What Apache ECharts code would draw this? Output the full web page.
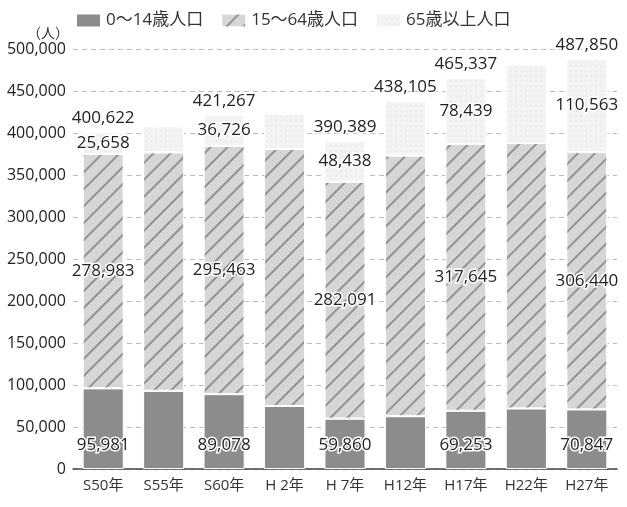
<!DOCTYPE html>
<html><head><meta charset="utf-8">
<script src="https://cdn.jsdelivr.net/npm/echarts@6/dist/echarts.min.js"></script>
<style>html,body{margin:0;padding:0;background:#fff}#c{width:627px;height:507px}</style>
</head><body><div id="c"></div>
<script>
const categories = ['S50年','S55年','S60年','H 2年','H 7年','H12年','H17年','H22年','H27年'];
const young   = [95981, 93000, 89078, 75000, 59860, 62800, 69253, 72000, 70847];
const working = [278983, 284000, 295463, 306000, 282091, 310300, 317645, 316000, 306440];
const elderly = [25658, 31000, 36726, 42000, 48438, 65005, 78439, 93000, 110563];
const segLabelIdx = [0, 2, 4, 6, 8];
const totalLabelIdx = [0, 2, 4, 5, 6, 8];
const seriesNames = ['0～14歳人口', '15～64歳人口', '65歳以上人口'];
const yTicks = { min: 0, max: 500000, interval: 50000 };

const totals = categories.map((_, i) => young[i] + working[i] + elderly[i]);
const fmt = v => v.toLocaleString('en-US');
const FONT = '"Open Sans", "Noto Sans CJK JP", sans-serif';

function withLabels(arr, idx) {
  return arr.map((v, i) => ({ value: v, label: { show: idx.includes(i) } }));
}

const labelBase = { fontSize: 17, color: '#222', fontFamily: FONT,
                    textBorderColor: '#fff', textBorderWidth: 3, formatter: p => fmt(p.value) };

const chart = echarts.init(document.getElementById('c'));
chart.setOption({
  animation: false,
  textStyle: { fontFamily: FONT },
  legend: {
    data: seriesNames,
    left: 70, top: 7,
    itemWidth: 25, itemHeight: 14, itemGap: 17,
    icon: 'rect',
    textStyle: { fontSize: 17, color: '#333', fontFamily: FONT }
  },
  grid: { left: 73, right: 10, top: 49, bottom: 38 },
  xAxis: {
    type: 'category', data: categories,
    axisLine: { lineStyle: { color: '#444', width: 1.5 } },
    axisTick: { show: false },
    axisLabel: { fontSize: 15, color: '#333', margin: 9, fontFamily: FONT }
  },
  yAxis: {
    type: 'value', min: yTicks.min, max: yTicks.max, interval: yTicks.interval,
    name: '（人）', nameLocation: 'end', nameGap: 6,
    nameTextStyle: { fontSize: 14, color: '#333', align: 'right', padding: [0, 4, 0, 0] },
    axisLabel: { fontSize: 16, color: '#222', margin: 7, formatter: v => fmt(v) },
    splitLine: { lineStyle: { color: '#bbb', type: [5, 4] } }
  },
  series: [
    {
      name: seriesNames[0], type: 'bar', stack: 'p', barCategoryGap: '32%',
      itemStyle: { color: '#8c8c8c', borderColor: '#fff', borderWidth: 1 },
      label: Object.assign({ position: 'insideBottom', distance: 15 }, labelBase),
      data: withLabels(young, segLabelIdx)
    },
    {
      name: seriesNames[1], type: 'bar', stack: 'p',
      itemStyle: { color: '#d6d6d6', borderColor: '#fff', borderWidth: 1,
        decal: { symbol: 'rect', symbolSize: 1, dashArrayX: [1, 0], dashArrayY: [1.3, 10],
                 rotation: -Math.PI / 4, color: 'rgba(100,100,100,0.6)' } },
      label: Object.assign({ position: 'inside' }, labelBase),
      data: withLabels(working, segLabelIdx)
    },
    {
      name: seriesNames[2], type: 'bar', stack: 'p',
      itemStyle: { color: '#f3f3f3', borderColor: '#fff', borderWidth: 1,
        decal: { symbol: 'circle', symbolSize: 0.6, dashArrayX: [[2, 3]], dashArrayY: [2, 3],
                 color: 'rgba(150,150,150,0.3)' } },
      label: Object.assign({ position: 'inside' }, labelBase),
      data: withLabels(elderly, segLabelIdx)
    },
    {
      name: 'total', type: 'scatter', symbol: 'rect', symbolSize: 1,
      itemStyle: { color: 'rgba(0,0,0,0)', opacity: 1 }, silent: true,
      label: Object.assign({ position: 'top', distance: 5 }, labelBase),
      data: withLabels(totals, totalLabelIdx)
    }
  ]
});
</script></body></html>
